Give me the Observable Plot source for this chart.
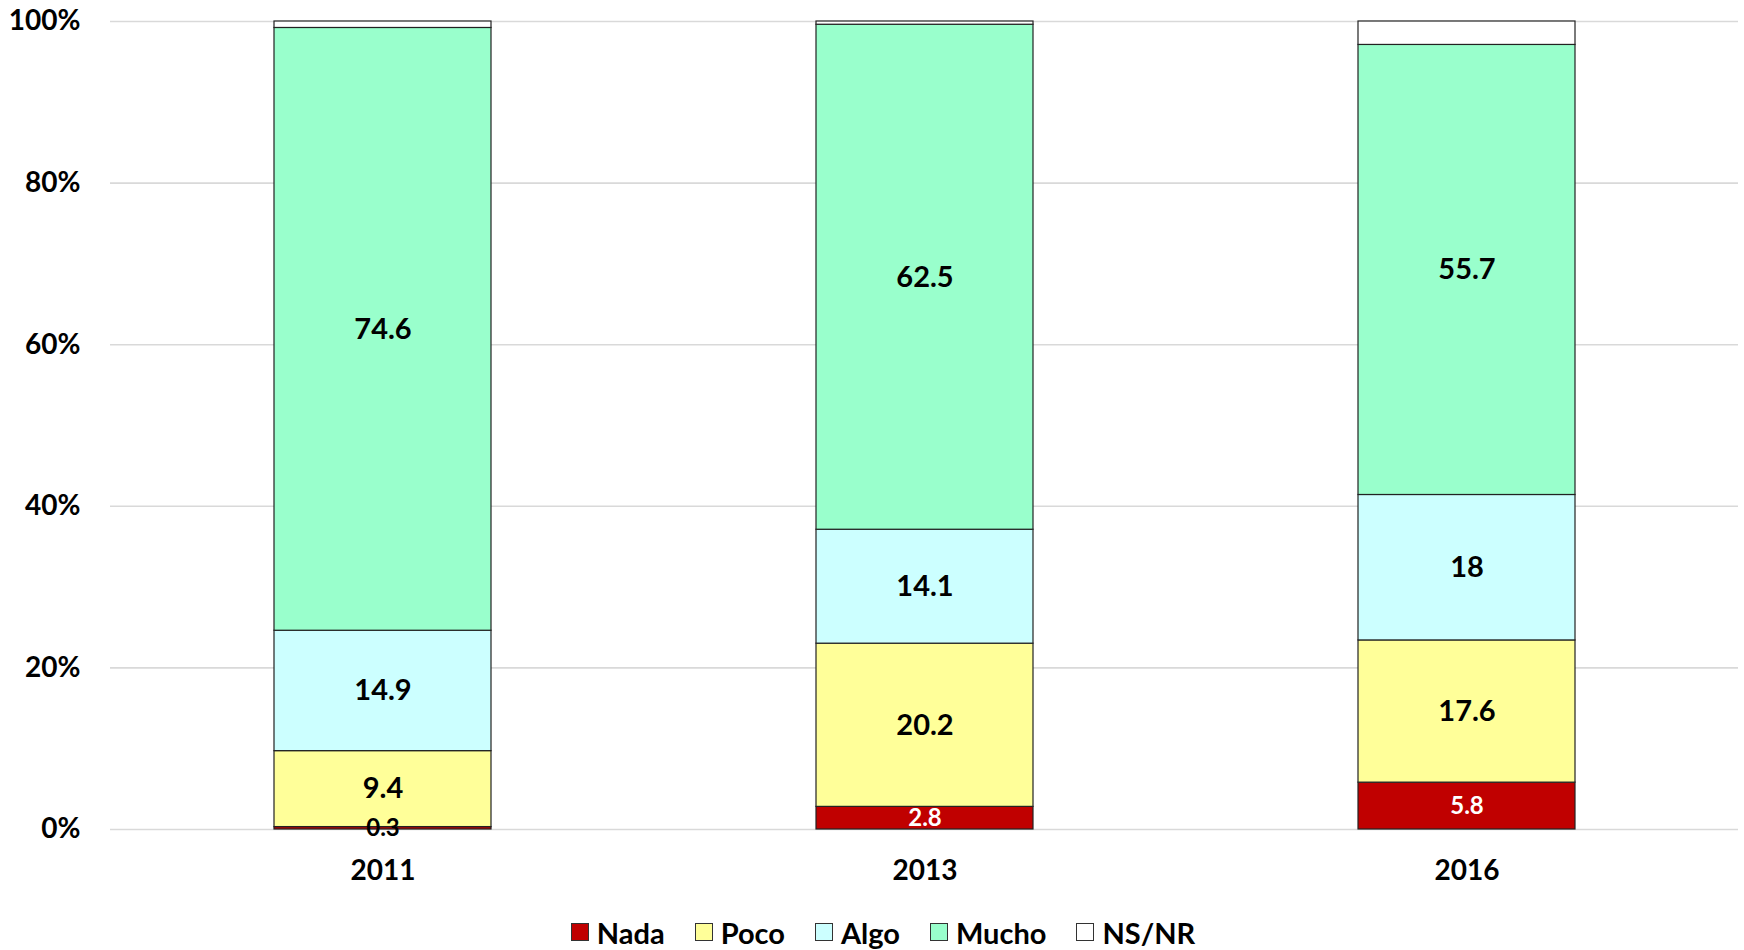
<!DOCTYPE html>
<html>
<head>
<meta charset="utf-8">
<script src="https://cdn.jsdelivr.net/npm/d3@7"></script>
<script src="https://cdn.jsdelivr.net/npm/@observablehq/plot@0.6"></script>
<style>
  html, body { margin: 0; padding: 0; background: #fff; }
  #chart { width: 1744px; }
  .legend { display: flex; justify-content: center; align-items: center; gap: 30px;
            font-family: Lato, "Open Sans", sans-serif; font-weight: bold; font-size: 29px;
            color: #000; height: 50px; margin-top: 12px; margin-left: 22px; }
  .legend .item { display: flex; align-items: center; gap: 8px; }
  .legend .sw { width: 18px; height: 18px; border: 1px solid #333; box-sizing: border-box; }
</style>
</head>
<body>
<div id="chart"></div>
<script>
const years = ["2011", "2013", "2016"];
const categories = ["Nada", "Poco", "Algo", "Mucho", "NS/NR"];
const colors = ["#C00000", "#FFFF99", "#CCFFFF", "#99FFCC", "#FFFFFF"];
const nada  = [0.3, 2.8, 5.8];
const poco  = [9.4, 20.2, 17.6];
const algo  = [14.9, 14.1, 18];
const mucho = [74.6, 62.5, 55.7];
const nsnr  = [0.8, 0.4, 2.9];
const yTicks = [0, 20, 40, 60, 80, 100];

const series = [nada, poco, algo, mucho, nsnr];
const data = [];
years.forEach((yr, i) => {
  categories.forEach((c, j) => {
    data.push({year: yr, cat: c, value: series[j][i]});
  });
});
const labelled = data.filter(d => d.cat !== "NS/NR");

const font = "Lato, 'Open Sans', sans-serif";

const chart = Plot.plot({
  width: 1744,
  height: 895,
  marginTop: 21,
  marginBottom: 66,
  marginLeft: 110,
  marginRight: 6,
  style: {fontFamily: font, fontWeight: "bold", fontSize: "28px", color: "#000", background: "#fff"},
  x: {domain: years, paddingInner: 0.6, paddingOuter: 0.3, label: null, tickSize: 0, tickPadding: 31},
  y: {domain: [0, 100], ticks: yTicks, tickFormat: d => d + "%", label: null, tickSize: 0, tickPadding: 30},
  color: {domain: categories, range: colors},
  marks: [
    Plot.ruleY(yTicks, {stroke: "#d9d9d9", strokeWidth: 1.6}),
    Plot.barY(data, Plot.stackY({
      x: "year", y: "value", fill: "cat", order: categories,
      stroke: "#222", strokeWidth: 1.2
    })),
    Plot.text(labelled, Plot.stackY({
      x: "year", y: "value", z: "cat", order: categories,
      text: d => String(d.value),
      fill: d => (d.cat === "Nada" && d.value > 1) ? "#fff" : "#000",
      fontSize: d => d.cat === "Nada" ? 24 : 29,
      fontWeight: "bold"
    }))
  ]
});

document.getElementById("chart").appendChild(chart);

const legend = document.createElement("div");
legend.className = "legend";
categories.forEach((c, i) => {
  const item = document.createElement("div");
  item.className = "item";
  const sw = document.createElement("div");
  sw.className = "sw";
  sw.style.background = colors[i];
  const lab = document.createElement("span");
  lab.textContent = c;
  item.appendChild(sw);
  item.appendChild(lab);
  legend.appendChild(item);
});
document.getElementById("chart").appendChild(legend);
</script>
</body>
</html>
